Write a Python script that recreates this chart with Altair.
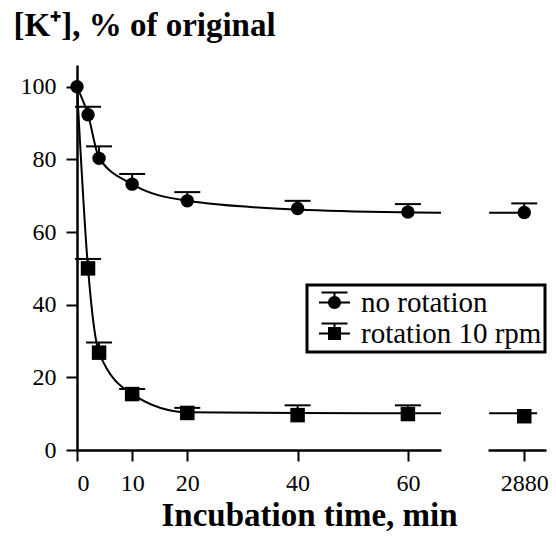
import altair as alt
import pandas as pd

# ---------------- data ----------------
SERIES = ["no rotation", "rotation 10 rpm"]

TIMES_NOROT = [0, 2, 4, 10, 20, 40, 60]
MEAN_NOROT = [100, 92.3, 80.3, 73.2, 68.6, 66.5, 65.5]
CAP_NOROT = [None, 94.5, 83.6, 76.0, 71.0, 68.6, 67.7]

TIMES_ROT = [2, 4, 10, 20, 40, 60]
MEAN_ROT = [50.0, 26.8, 15.4, 10.2, 9.6, 9.9]
CAP_ROT = [52.6, 29.6, 16.8, 11.6, 12.3, 12.3]

LATE_TIME = [2880]
LATE_MEAN_NOROT = [65.4]
LATE_CAP_NOROT = [67.9]
LATE_MEAN_ROT = [9.3]
LATE_CAP_ROT = [None]

FIT_TIMES = [0, 2, 4, 10, 20, 40, 60, 66]
FIT_NOROT = [100, 92.3, 80.5, 73.2, 68.6, 66.2, 65.4, 65.3]
FIT_ROT = [100, 50.0, 26.8, 15.4, 10.4, 10.2, 10.1, 10.1]

LATE_FIT_TIMES_NOROT = [2873.7, 2880.9]
LATE_FIT_NOROT = [65.3, 65.3]
LATE_FIT_TIMES_ROT = [2873.7, 2882.3]
LATE_FIT_ROT = [10.1, 10.1]

X_TICKS = [0, 10, 20, 40, 60]
X_TICKS_LATE = [2880]
Y_TICKS = [0, 20, 40, 60, 80, 100]

Y_TITLE = "[K\u207a], % of original"
X_TITLE = "Incubation time, min"

# ---------------- tables ----------------
def points(times, means, caps, name):
    return pd.DataFrame({"t": times, "mean": means, "cap": caps, "series": name})

pts_early = pd.concat([points(TIMES_NOROT, MEAN_NOROT, CAP_NOROT, SERIES[0]),
                       points(TIMES_ROT, MEAN_ROT, CAP_ROT, SERIES[1])], ignore_index=True)
pts_late = pd.concat([points(LATE_TIME, LATE_MEAN_NOROT, LATE_CAP_NOROT, SERIES[0]),
                      points(LATE_TIME, LATE_MEAN_ROT, LATE_CAP_ROT, SERIES[1])], ignore_index=True)
caps_early = pts_early.dropna(subset=["cap"])
caps_late = pts_late.dropna(subset=["cap"])

fit_early = pd.concat([pd.DataFrame({"t": FIT_TIMES, "v": FIT_NOROT, "series": SERIES[0]}),
                       pd.DataFrame({"t": FIT_TIMES, "v": FIT_ROT, "series": SERIES[1]})], ignore_index=True)
fit_late = pd.concat([pd.DataFrame({"t": LATE_FIT_TIMES_NOROT, "v": LATE_FIT_NOROT, "series": SERIES[0]}),
                      pd.DataFrame({"t": LATE_FIT_TIMES_ROT, "v": LATE_FIT_ROT, "series": SERIES[1]})], ignore_index=True)

FONT = "Liberation Serif"
BLACK = "#000000"
LABELS = dict(labelFont=FONT, labelFontSize=24, labelColor=BLACK, labelPadding=10,
              domainColor=BLACK, domainWidth=2.5, tickColor=BLACK, tickWidth=2, tickSize=11,
              grid=False)

y_scale = alt.Scale(domain=[0, 106], nice=False, zero=False)
y_axis = alt.Axis(values=Y_TICKS, title=Y_TITLE, titleAngle=0, titleAlign="left",
                  titleBaseline="alphabetic", titleX=-64, titleY=-30,
                  titleFontSize=33, titleFontWeight="bold", titleFont=FONT, titleColor=BLACK,
                  **LABELS)

x_scale_early = alt.Scale(domain=[0, 66], nice=False, zero=False)
x_axis_early = alt.Axis(values=X_TICKS, title=X_TITLE, titleX=232, titleY=75,
                        titleBaseline="alphabetic", titleAlign="center",
                        titleFontSize=33, titleFontWeight="bold", titleFont=FONT, titleColor=BLACK,
                        **LABELS)

x_scale_late = alt.Scale(domain=[2873.5, 2883.9], nice=False, zero=False)
x_axis_late = alt.Axis(values=X_TICKS_LATE, format="d", title=None, **LABELS)

# legend symbols (filled outlines): bar + cap + stem + marker
SYM_CIRCLE = ("M-1.55,-0.1H1.55V0.1H-1.55Z"
              "M-1.3,-1.1H1.3V-0.9H-1.3Z"
              "M-0.1,-1H0.1V0H-0.1Z"
              "M0.65,0A0.65,0.65,0,1,1,-0.65,0A0.65,0.65,0,1,1,0.65,0Z")
SYM_SQUARE = ("M-1.55,-0.1H1.55V0.1H-1.55Z"
              "M-1.3,-1.1H1.3V-0.9H-1.3Z"
              "M-0.1,-1H0.1V0H-0.1Z"
              "M-0.65,-0.65H0.65V0.65H-0.65Z")


def panel(pts, caps, fit, xs, xa, ya, with_legend, width):
    x = alt.X("t:Q", scale=xs, axis=xa)
    line = alt.Chart(fit).mark_line(color=BLACK, strokeWidth=2, interpolate="monotone").encode(
        x=x, y=alt.Y("v:Q", scale=y_scale, axis=ya), detail="series:N")
    stems = alt.Chart(caps).mark_rule(color=BLACK, strokeWidth=2).encode(
        x=x, y=alt.Y("mean:Q", scale=y_scale, axis=ya), y2="cap:Q")
    ticks = alt.Chart(caps).mark_tick(orient="horizontal", size=26, thickness=2,
                                      color=BLACK, opacity=1).encode(
        x=x, y=alt.Y("cap:Q", scale=y_scale, axis=ya))
    squares = alt.Chart(pts).transform_filter(alt.datum.series == SERIES[1]).mark_point(
        shape="square", filled=True, size=210, color=BLACK, opacity=1).encode(
        x=x, y=alt.Y("mean:Q", scale=y_scale, axis=ya))
    circles = alt.Chart(pts).transform_filter(alt.datum.series == SERIES[0]).mark_point(
        shape="circle", filled=True, size=180, color=BLACK, opacity=1).encode(
        x=x, y=alt.Y("mean:Q", scale=y_scale, axis=ya))
    layers = [line, stems, ticks, squares, circles]
    if with_legend:
        leg = alt.Chart(pts).mark_point(filled=True, color=BLACK).encode(
            x=x, y=alt.Y("mean:Q", scale=y_scale, axis=ya),
            shape=alt.Shape("series:N", scale=alt.Scale(domain=SERIES, range=[SYM_CIRCLE, SYM_SQUARE]),
                            legend=alt.Legend(orient="none", legendX=230, legendY=220, title=None,
                                              labelFont=FONT, labelFontSize=29, labelColor=BLACK,
                                              labelLimit=400,
                                              symbolSize=400, symbolFillColor=BLACK,
                                              symbolStrokeWidth=0,
                                              symbolOpacity=1, symbolOffset=10, labelOffset=12,
                                              strokeColor=BLACK, fillColor="white",
                                              padding=3, rowPadding=1)),
            opacity=alt.value(0))
        layers.append(leg)
    return alt.layer(*layers).properties(width=width, height=385)


left = panel(pts_early, caps_early, fit_early, x_scale_early, x_axis_early, y_axis, True, 364)
right = panel(pts_late, caps_late, fit_late, x_scale_late, x_axis_late, None, False, 58)

chart = alt.hconcat(left, right, spacing=47, bounds="flush").properties(
    padding={"top": 1, "left": 5, "right": -1, "bottom": 0}
).configure_view(
    stroke=None
).configure_axis(
    grid=False, domainColor=BLACK, domainWidth=2.5, tickColor=BLACK, tickWidth=2, tickSize=11,
    labelFont=FONT, labelFontSize=24, labelColor=BLACK, labelPadding=10
).configure_legend(strokeWidth=3)

chart.save("out.html", embed_options={"renderer": "svg", "actions": False})
